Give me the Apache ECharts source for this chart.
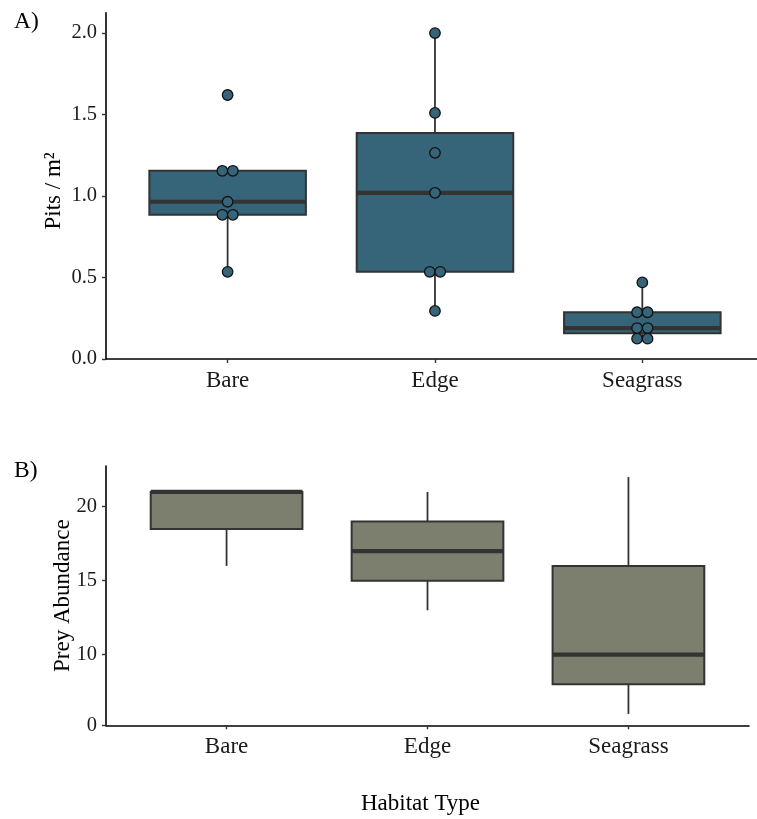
<!DOCTYPE html>
<html>
<head>
<meta charset="utf-8">
<title>Pits and prey by habitat</title>
<script src="https://cdn.jsdelivr.net/npm/echarts@6/dist/echarts.min.js"></script>
<style>
  html, body { margin: 0; padding: 0; background: #ffffff; }
  #chart { width: 757px; height: 819px; }
</style>
</head>
<body>
<div id="chart"></div>
<script>
// Habitat categories (placed at 1, 2, 3 on a numeric x scale)
const habitats = ['Bare', 'Edge', 'Seagrass'];

// Panel A: pit density per plot (pits / m²)
const pitsBare = [1.62, 1.155, 1.155, 0.965, 0.885, 0.885, 0.535];
const pitsEdge = [2.0, 1.51, 1.265, 1.02, 0.535, 0.535, 0.295];
const pitsSeagrass = [0.47, 0.287, 0.287, 0.19, 0.19, 0.125, 0.125];
const pitsTicks = [0, 0.5, 1, 1.5, 2];

// Panel B: prey abundance five-number summaries
const preyMin = [16, 13, 6];
const preyQ1 = [18.5, 15, 8];
const preyMedian = [21, 17, 10];
const preyQ3 = [21, 19, 16];
const preyMax = [21, 21, 22];
const preyTickValues = [5.23, 10, 15, 20];
const preyTickLabels = ['0', '10', '15', '20'];

const FILL_A = '#366478';
const FILL_B = '#7d7f6e';
const EDGE = '#333333';
const BOX_WIDTH = 0.755;
const SERIF = '"Liberation Serif", "Times New Roman", serif';

// R-style (type 7) quantile
function quantile(sorted, p) {
  const h = (sorted.length - 1) * p;
  const lo = Math.floor(h), hi = Math.ceil(h);
  return sorted[lo] + (h - lo) * (sorted[hi] - sorted[lo]);
}

// Tukey box statistics: [whiskerLow, q1, median, q3, whiskerHigh]
function boxStats(values) {
  const s = values.slice().sort((a, b) => a - b);
  const q1 = quantile(s, 0.25), md = quantile(s, 0.5), q3 = quantile(s, 0.75);
  const iqr = q3 - q1;
  const inside = s.filter(v => v >= q1 - 1.5 * iqr && v <= q3 + 1.5 * iqr);
  return [inside[0], q1, md, q3, inside[inside.length - 1]];
}

const pitGroups = [pitsBare, pitsEdge, pitsSeagrass];
const pitBoxes = pitGroups.map((g, i) => [i + 1].concat(boxStats(g)));
const preyBoxes = habitats.map((h, i) => [i + 1, preyMin[i], preyQ1[i], preyMedian[i], preyQ3[i], preyMax[i]]);

// Points with equal values are dodged side by side
const POINT_SIZE = 10.5;
const pitPoints = [];
pitGroups.forEach((g, i) => {
  const counts = {};
  g.forEach(v => { counts[v] = (counts[v] || 0) + 1; });
  const seen = {};
  g.forEach(v => {
    const n = counts[v];
    const k = seen[v] = (seen[v] || 0) + 1;
    const off = (k - 1 - (n - 1) / 2) * POINT_SIZE;
    pitPoints.push({ value: [i + 1, v], symbolOffset: [off, 0] });
  });
});

function boxRenderer(fill) {
  return function (params, api) {
    const x = api.value(0);
    const lo = api.coord([x, api.value(1)]);
    const q1 = api.coord([x, api.value(2)]);
    const md = api.coord([x, api.value(3)]);
    const q3 = api.coord([x, api.value(4)]);
    const hi = api.coord([x, api.value(5)]);
    const half = api.size([BOX_WIDTH, 0])[0] / 2;
    const cx = md[0];
    const lineStyle = { stroke: EDGE, lineWidth: 1.8 };
    return {
      type: 'group',
      children: [
        { type: 'line', shape: { x1: cx, y1: lo[1], x2: cx, y2: q1[1] }, style: lineStyle },
        { type: 'line', shape: { x1: cx, y1: q3[1], x2: cx, y2: hi[1] }, style: lineStyle },
        { type: 'rect', shape: { x: cx - half, y: q3[1], width: half * 2, height: q1[1] - q3[1] },
          style: { fill: fill, stroke: EDGE, lineWidth: 2 } },
        { type: 'line', shape: { x1: cx - half, y1: md[1], x2: cx + half, y2: md[1] },
          style: { stroke: EDGE, lineWidth: 4.2 } }
      ]
    };
  };
}

const axisLineStyle = { show: true, lineStyle: { color: '#000000', width: 1.6 } };
const tickStyle = { show: true, length: 4, lineStyle: { color: '#333333', width: 1.4 } };

function categoryAxis(gridIndex, max) {
  return {
    type: 'value', gridIndex: gridIndex, min: 0.4135, max: max,
    axisLine: axisLineStyle,
    axisTick: Object.assign({ customValues: [1, 2, 3] }, tickStyle),
    axisLabel: {
      customValues: [1, 2, 3], margin: 10,
      formatter: v => habitats[Math.round(v) - 1],
      fontFamily: SERIF, fontSize: 23, color: '#1a1a1a'
    },
    splitLine: { show: false }
  };
}

const chart = echarts.init(document.getElementById('chart'), null, { renderer: 'canvas' });

chart.setOption({
  backgroundColor: '#ffffff',
  animation: false,
  grid: [
    { left: 106, top: 12.7, width: 651, height: 346.3 },
    { left: 106, top: 466, width: 643, height: 259.3 }
  ],
  xAxis: [
    categoryAxis(0, 3.553),
    Object.assign(categoryAxis(1, 3.6), {
      min: 0.4,
      name: 'Habitat Type', nameLocation: 'middle', nameGap: 67, nameMoveOverlap: false,
      nameTextStyle: { fontFamily: SERIF, fontSize: 23, color: '#000000', padding: [0, 14, 0, 0] }
    })
  ],
  yAxis: [
    {
      type: 'value', gridIndex: 0, min: 0, max: 2.125,
      name: 'Pits / m²', nameLocation: 'middle', nameGap: 41, nameMoveOverlap: false,
      nameTextStyle: { fontFamily: SERIF, fontSize: 23, color: '#000000', padding: [0, 10, 0, 0] },
      axisLine: axisLineStyle,
      axisTick: Object.assign({ customValues: pitsTicks }, tickStyle),
      axisLabel: {
        customValues: pitsTicks, margin: 9,
        formatter: v => v.toFixed(1),
        fontFamily: SERIF, fontSize: 20.5, color: '#1a1a1a'
      },
      splitLine: { show: false }
    },
    {
      type: 'value', gridIndex: 1, min: 5.23, max: 22.75,
      name: 'Prey Abundance', nameLocation: 'middle', nameGap: 32, nameMoveOverlap: false,
      nameTextStyle: { fontFamily: SERIF, fontSize: 23, color: '#000000' },
      axisLine: axisLineStyle,
      axisTick: Object.assign({ customValues: preyTickValues }, tickStyle),
      axisLabel: {
        customValues: preyTickValues, margin: 9,
        formatter: v => preyTickLabels[preyTickValues.indexOf(v)],
        fontFamily: SERIF, fontSize: 20.5, color: '#1a1a1a'
      },
      splitLine: { show: false }
    }
  ],
  graphic: [
    { type: 'text', left: 14, top: 10, style: { text: 'A)', font: '23.5px ' + SERIF, fill: '#000000' } },
    { type: 'text', left: 14, top: 459, style: { text: 'B)', font: '23.5px ' + SERIF, fill: '#000000' } }
  ],
  series: [
    {
      type: 'custom', xAxisIndex: 0, yAxisIndex: 0,
      data: pitBoxes, encode: { x: 0, y: [1, 2, 3, 4, 5] },
      renderItem: boxRenderer(FILL_A), z: 2, silent: true
    },
    {
      type: 'scatter', xAxisIndex: 0, yAxisIndex: 0,
      data: pitPoints, symbol: 'circle', symbolSize: POINT_SIZE,
      itemStyle: { color: FILL_A, borderColor: '#111111', borderWidth: 1.3, opacity: 1 },
      z: 3, silent: true
    },
    {
      type: 'custom', xAxisIndex: 1, yAxisIndex: 1,
      data: preyBoxes, encode: { x: 0, y: [1, 2, 3, 4, 5] },
      renderItem: boxRenderer(FILL_B), z: 2, silent: true
    }
  ]
});
</script>
</body>
</html>
